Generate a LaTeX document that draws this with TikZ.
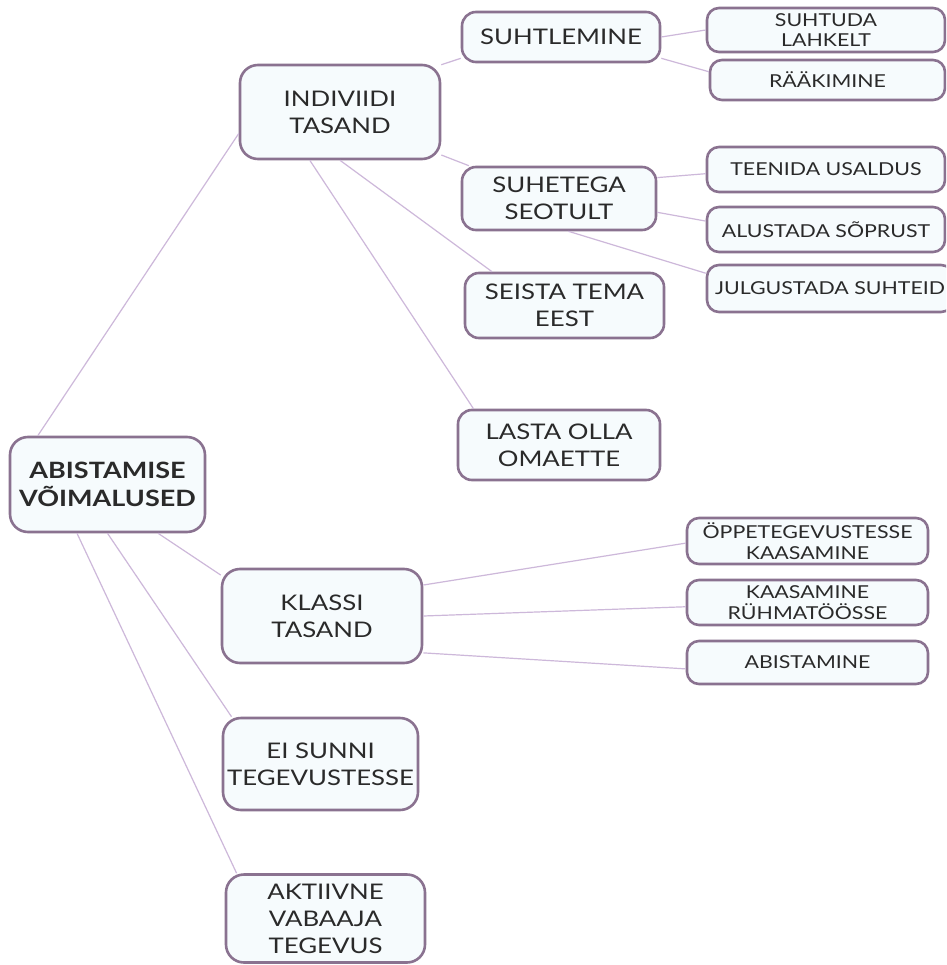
\documentclass[tikz,border=0pt]{standalone}
\usepackage{fontspec}
\setmainfont{Lato}[FakeStretch=1.2]
\usepackage{tikz}

\definecolor{boxline}{HTML}{8A7290}
\definecolor{boxfill}{HTML}{F6FBFD}
\definecolor{linkcol}{HTML}{CDB8DA}
\definecolor{ink}{HTML}{2A2A2A}

\begin{document}
\begin{tikzpicture}[x=1pt, y=-1pt,
  box/.style={draw=boxline, line width=2.6pt, fill=boxfill, rounded corners=18pt,
    align=center, text=ink, inner sep=0pt, font=\fontsize{21.5}{27}\selectfont},
  leaf/.style={box, rounded corners=12pt, font=\fontsize{17.8}{20.5}\selectfont},
  link/.style={draw=linkcol, line width=1.2pt}]
% page
\fill[white] (0,0) rectangle (946,965);
\useasboundingbox (0,0) rectangle (946,965);
\clip (0,0) rectangle (946,965);
% root
\node[box, font=\fontsize{22.5}{28}\selectfont\bfseries, minimum width=195pt, minimum height=95pt] (root) at (107.5,484.5) {ABISTAMISE\\VÕIMALUSED};
% second level
\node[box, minimum width=200pt, minimum height=94pt] (ind) at (340,112) {INDIVIIDI\\TASAND};
\node[box, minimum width=200pt, minimum height=94pt] (klassi) at (322,616) {KLASSI\\TASAND};
\node[box, minimum width=195pt, minimum height=92pt] (eisunni) at (320.5,764) {EI SUNNI\\TEGEVUSTESSE};
\node[box, minimum width=199pt, minimum height=88pt] (aktiiv) at (325.5,918.5) {AKTIIVNE\\VABAAJA\\TEGEVUS};
% individual level
\node[box, rounded corners=14pt, minimum width=198pt, minimum height=50pt] (suht) at (561,37) {SUHTLEMINE};
\node[box, rounded corners=14pt, minimum width=194pt, minimum height=63pt] (seot) at (559,198.5) {SUHETEGA\\SEOTULT};
\node[box, rounded corners=14pt, minimum width=199pt, minimum height=65pt] (seista) at (564.5,305.5) {SEISTA TEMA\\EEST};
\node[box, rounded corners=14pt, minimum width=202pt, minimum height=70pt] (lasta) at (559,445) {LASTA OLLA\\OMAETTE};
% leaves
\node[leaf, minimum width=238pt, minimum height=44pt] (lahk) at (826,30) {SUHTUDA\\LAHKELT};
\node[leaf, minimum width=235pt, minimum height=40pt] (raak) at (827.5,80) {RÄÄKIMINE};
\node[leaf, minimum width=238pt, minimum height=45pt] (teenida) at (826,169.5) {TEENIDA USALDUS};
\node[leaf, minimum width=238pt, minimum height=45pt] (alust) at (826,229.5) {ALUSTADA SÕPRUST};
\node[leaf, minimum width=246pt, minimum height=47pt] (julg) at (830,288.5) {JULGUSTADA SUHTEID};
\node[leaf, minimum width=241pt, minimum height=46pt] (oppe) at (807.5,541) {ÖPPETEGEVUSTESSE\\KAASAMINE};
\node[leaf, minimum width=241pt, minimum height=45pt] (kaas) at (807.5,602.5) {KAASAMINE\\RÜHMATÖÖSSE};
\node[leaf, minimum width=241pt, minimum height=43pt] (abist) at (807.5,662.5) {ABISTAMINE};
% links from root
\draw[link] (root.145) -- (ind.192);
\draw[link] (root.-44) -- (klassi.158);
\draw[link] (root.-90) -- (eisunni.152);
\draw[link] (root.-122) -- (aktiiv.153);
% links from individual level
\draw[link] (ind.25) -- (suht.192);
\draw[link] (ind.-23) -- (seot.160);
\draw[link] (ind.-90) -- (seista.155);
\draw[link] (ind.-122) -- (lasta.157);
\draw[link] (suht.east) -- (lahk.west);
\draw[link] (suht.-12) -- (raak.176);
\draw[link] (seot.12) -- (teenida.182);
\draw[link] (seot.-8) -- (alust.176);
\draw[link] (seot.-74) -- (julg.173);
% links from class level
\draw[link] (klassi.17) -- (oppe.181);
\draw[link] (klassi.east) -- (kaas.182);
\draw[link] (klassi.-20) -- (abist.183);
\end{tikzpicture}
\end{document}
